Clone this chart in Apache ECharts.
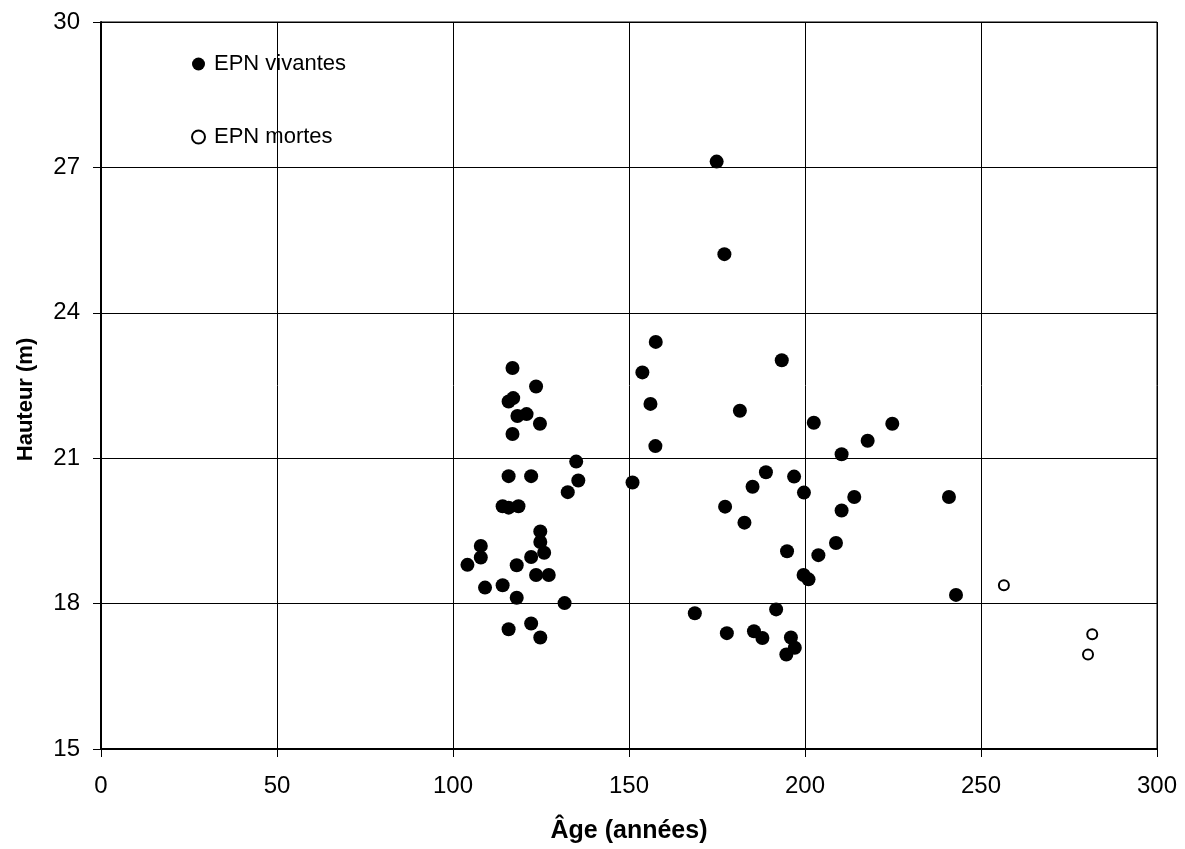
<!DOCTYPE html>
<html>
<head>
<meta charset="utf-8">
<script src="https://cdn.jsdelivr.net/npm/echarts@6/dist/echarts.min.js"></script>
<style>
  html, body { margin: 0; padding: 0; background: #fff; }
  #chart { width: 1185px; height: 849px; }
</style>
</head>
<body>
<div id="chart"></div>
<script>
// données
const xTicks = [0, 50, 100, 150, 200, 250, 300];
const yTicks = [15, 18, 21, 24, 27, 30];

const vivantesAge = [116.9, 123.6, 115.8, 117.1, 118.3, 120.9, 124.7, 116.9, 135.0, 115.8,
  122.2, 135.6, 132.6, 151.0, 114.1, 115.8, 118.6, 124.8, 124.8, 125.9,
  107.9, 107.9, 104.1, 122.2, 118.1, 123.6, 127.2, 109.1, 114.1, 118.1,
  131.7, 115.8, 122.2, 124.8, 153.8, 156.1, 157.5, 174.9, 177.1, 157.6,
  193.4, 181.5, 202.5, 224.8, 217.8, 210.4, 188.9, 196.9, 185.1, 199.7,
  214.0, 240.9, 177.3, 210.4, 182.8, 208.8, 194.9, 203.8, 199.6, 201.0,
  242.9, 168.7, 191.8, 177.8, 185.5, 187.9, 196.0, 197.1, 194.7];
const vivantesHauteur = [22.86, 22.48, 22.17, 22.24, 21.87, 21.91, 21.71, 21.50, 20.93, 20.63,
  20.63, 20.54, 20.30, 20.50, 20.01, 19.98, 20.01, 19.49, 19.27, 19.05,
  19.19, 18.95, 18.80, 18.96, 18.79, 18.59, 18.59, 18.33, 18.38, 18.12,
  18.01, 17.47, 17.59, 17.30, 22.77, 22.12, 21.25, 27.12, 25.21, 23.40,
  23.02, 21.98, 21.73, 21.71, 21.36, 21.08, 20.71, 20.62, 20.41, 20.29,
  20.20, 20.20, 20.00, 19.92, 19.67, 19.25, 19.08, 19.00, 18.59, 18.50,
  18.18, 17.80, 17.88, 17.39, 17.43, 17.29, 17.30, 17.09, 16.95];

const mortesAge = [256.5, 281.6, 280.4];
const mortesHauteur = [18.38, 17.37, 16.95];

const zip = (a, b) => a.map((v, i) => [v, b[i]]);

const chart = echarts.init(document.getElementById('chart'));
const font = 'Liberation Sans, Arial, sans-serif';

chart.setOption({
  animation: false,
  backgroundColor: '#fff',
  grid: {
    left: 101, right: 28, top: 22, bottom: 99,
    show: true, borderColor: '#000', borderWidth: 1
  },
  legend: {
    orient: 'vertical',
    left: 186, top: 48,
    itemGap: 51,
    itemWidth: 13, itemHeight: 13,
    textStyle: { fontFamily: font, fontSize: 22, color: '#000', padding: [0, 0, 0, 4] },
    data: ['EPN vivantes', 'EPN mortes']
  },
  xAxis: {
    type: 'value',
    min: xTicks[0], max: xTicks[xTicks.length - 1], interval: 50,
    name: 'Âge (années)',
    nameLocation: 'middle', nameGap: 70,
    nameTextStyle: { fontFamily: font, fontSize: 25, fontWeight: 'bold', color: '#000' },
    axisLine: { show: true, lineStyle: { color: '#000', width: 2 } },
    axisTick: { show: true, inside: false, length: 8, lineStyle: { color: '#000' } },
    axisLabel: { fontFamily: font, fontSize: 24, color: '#000', margin: 25 },
    splitLine: { show: true, lineStyle: { color: '#000', width: 1 } }
  },
  yAxis: {
    type: 'value',
    min: yTicks[0], max: yTicks[yTicks.length - 1], interval: 3,
    name: 'Hauteur (m)',
    nameLocation: 'middle', nameGap: 64,
    nameTextStyle: { fontFamily: font, fontSize: 22, fontWeight: 'bold', color: '#000', padding: [0, 28, 0, 0] },
    axisLine: { show: true, lineStyle: { color: '#000', width: 2 } },
    axisTick: { show: true, inside: false, length: 8, lineStyle: { color: '#000' } },
    axisLabel: { fontFamily: font, fontSize: 24, color: '#000', margin: 21 },
    splitLine: { show: true, lineStyle: { color: '#000', width: 1 } }
  },
  series: [
    {
      name: 'EPN vivantes',
      type: 'scatter',
      symbol: 'circle',
      symbolSize: 14,
      itemStyle: { color: '#000', opacity: 1 },
      data: zip(vivantesAge, vivantesHauteur)
    },
    {
      name: 'EPN mortes',
      type: 'scatter',
      symbol: 'circle',
      symbolSize: 10,
      itemStyle: { color: '#fff', borderColor: '#000', borderWidth: 2, opacity: 1 },
      data: zip(mortesAge, mortesHauteur)
    }
  ]
});
</script>
</body>
</html>
